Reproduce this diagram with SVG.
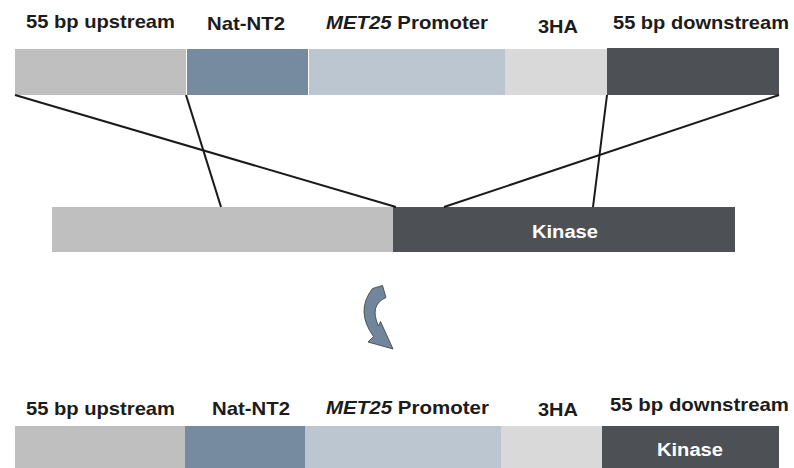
<svg xmlns="http://www.w3.org/2000/svg" width="794" height="468" viewBox="0 0 794 468">
  <style>
    .lbl { font-family: "Liberation Sans", Arial, sans-serif; font-weight: bold; font-size: 18.5px; fill: #1c1c1c; }
    .kin { font-family: "Liberation Sans", Arial, sans-serif; font-weight: bold; font-size: 18px; fill: #ffffff; text-anchor: middle; }
    .up { fill: #bfbfbf; }
    .nat { fill: #778ba0; }
    .pro { fill: #bcc6d0; }
    .ha { fill: #d9d9d9; }
    .down { fill: #4d5054; }
    .conn { stroke: #1a1a1a; stroke-width: 2; fill: none; }
  </style>
  <rect width="794" height="468" fill="#ffffff"/>

  <!-- cassette -->
  <g id="cassette">
    <g id="c-up">
      <rect class="up" x="15" y="49" width="171" height="46"/>
      <text class="lbl" x="26" y="28" textLength="149" lengthAdjust="spacingAndGlyphs">55 bp upstream</text>
    </g>
    <g id="c-nat">
      <rect class="nat" x="187" y="49" width="121" height="46"/>
      <text class="lbl" x="207" y="30" textLength="78" lengthAdjust="spacingAndGlyphs">Nat-NT2</text>
    </g>
    <g id="c-pro">
      <rect class="pro" x="309" y="49" width="196" height="46"/>
      <text class="lbl" x="326" y="29" textLength="162" lengthAdjust="spacingAndGlyphs"><tspan font-style="italic">MET25</tspan> Promoter</text>
    </g>
    <g id="c-ha">
      <rect class="ha" x="505" y="49" width="102" height="46"/>
      <text class="lbl" x="538" y="33" textLength="40" lengthAdjust="spacingAndGlyphs">3HA</text>
    </g>
    <g id="c-down">
      <rect class="down" x="607" y="48" width="172" height="47"/>
      <text class="lbl" x="613" y="29" textLength="176" lengthAdjust="spacingAndGlyphs">55 bp downstream</text>
    </g>
  </g>

  <!-- genomic locus -->
  <g id="locus">
    <rect class="up" x="52" y="207" width="341" height="45"/>
    <g id="locus-kinase">
      <rect class="down" x="393" y="207" width="342" height="45"/>
      <text class="kin" x="565" y="238" font-size="21" textLength="66" lengthAdjust="spacingAndGlyphs">Kinase</text>
    </g>
  </g>

  <!-- homology connectors -->
  <g id="connectors">
    <line class="conn" x1="15" y1="95" x2="396" y2="207"/>
    <line class="conn" x1="186" y1="95" x2="221" y2="207"/>
    <line class="conn" x1="607" y1="95" x2="593" y2="207"/>
    <line class="conn" x1="779" y1="95" x2="444" y2="207"/>
  </g>

  <!-- curved arrow -->
  <g id="arrow">
    <path d="M382.5,285.5 L386,297.5 Q369,305 378.5,326 L380.5,321.5 L393,349 L368,342 L373.5,336.5 Q355,311 372.5,288.5 Z" fill="#71869c" stroke="#3a3a3a" stroke-width="0.8" stroke-linejoin="miter"/>
  </g>

  <!-- integrated result -->
  <g id="result">
    <g id="r-up">
      <rect class="up" x="15" y="426" width="170" height="42"/>
      <text class="lbl" x="26" y="415" textLength="149" lengthAdjust="spacingAndGlyphs">55 bp upstream</text>
    </g>
    <g id="r-nat">
      <rect class="nat" x="185" y="426" width="120" height="42"/>
      <text class="lbl" x="212" y="415" textLength="78" lengthAdjust="spacingAndGlyphs">Nat-NT2</text>
    </g>
    <g id="r-pro">
      <rect class="pro" x="305" y="426" width="196" height="42"/>
      <text class="lbl" x="326" y="414" textLength="163" lengthAdjust="spacingAndGlyphs"><tspan font-style="italic">MET25</tspan> Promoter</text>
    </g>
    <g id="r-ha">
      <rect class="ha" x="501" y="426" width="101" height="42"/>
      <text class="lbl" x="538" y="416" textLength="40" lengthAdjust="spacingAndGlyphs">3HA</text>
    </g>
    <g id="r-down">
      <rect class="down" x="602" y="426" width="177" height="42"/>
      <text class="lbl" x="610" y="411" textLength="179" lengthAdjust="spacingAndGlyphs">55 bp downstream</text>
      <text class="kin" x="690" y="456" font-size="19" textLength="66" lengthAdjust="spacingAndGlyphs">Kinase</text>
    </g>
  </g>
</svg>
